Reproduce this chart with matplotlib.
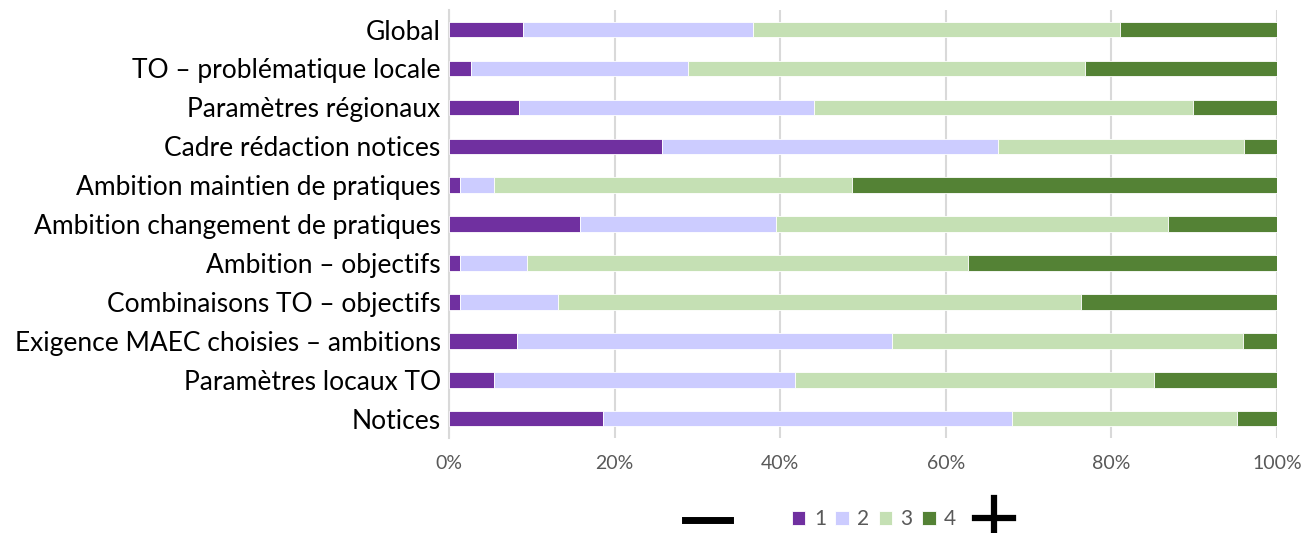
import numpy as np
import matplotlib.pyplot as plt
from matplotlib.lines import Line2D

plt.rcParams['font.family'] = ['Lato', 'DejaVu Sans']

categories = [
    "Global",
    "TO – problématique locale",
    "Paramètres régionaux",
    "Cadre rédaction notices",
    "Ambition maintien de pratiques",
    "Ambition changement de pratiques",
    "Ambition – objectifs",
    "Combinaisons TO – objectifs",
    "Exigence MAEC choisies – ambitions",
    "Paramètres locaux TO",
    "Notices",
]

# shares (%) of answers per score
score_1 = [8.9, 2.7, 8.5, 25.7, 1.3, 15.8, 1.3, 1.3, 8.2, 5.4, 18.6]
score_2 = [27.8, 26.2, 35.6, 40.6, 4.1, 23.7, 8.1, 11.9, 45.3, 36.4, 49.4]
score_3 = [44.3, 47.9, 45.8, 29.7, 43.3, 47.3, 53.3, 63.1, 42.4, 43.3, 27.2]
score_4 = [19.0, 23.2, 10.1, 4.0, 51.3, 13.2, 37.3, 23.7, 4.1, 14.9, 4.8]

series = [score_1, score_2, score_3, score_4]
labels = ["1", "2", "3", "4"]
colors = ["#7030A0", "#CCCCFF", "#C5E0B4", "#548235"]

fig = plt.figure(figsize=(13.06, 5.33), dpi=100)
ax = fig.add_axes([0.3438, 0.178, 0.634, 0.803])

y = np.arange(len(categories))
left = np.zeros(len(categories))
for vals, lab, col in zip(series, labels, colors):
    vals = np.array(vals)
    ax.barh(y, vals, left=left, height=0.4, color=col, label=lab,
            edgecolor="white", linewidth=0.6, zorder=3)
    left += vals

ax.set_ylim(len(categories) - 0.5, -0.5)
ax.set_xlim(0, 100)
ax.set_xticks(np.arange(0, 101, 20))
ax.set_xticklabels([f"{v}%" for v in range(0, 101, 20)], fontsize=14, color="#595959")
ax.set_yticks(y)
ax.set_yticklabels(categories, fontsize=19, color="black")
ax.tick_params(axis="both", length=0)
ax.tick_params(axis="x", pad=12)
ax.tick_params(axis="y", pad=6)
ax.grid(axis="x", color="#D9D9D9", linewidth=1.5, zorder=0)
for side in ["top", "right", "bottom"]:
    ax.spines[side].set_visible(False)
ax.spines["left"].set_color("#D9D9D9")
ax.spines["left"].set_linewidth(1.5)

fig.legend(loc="center", bbox_to_anchor=(874 / 1306, 0.026), ncol=4, frameon=False,
           fontsize=15, handlelength=0.65, handleheight=0.65, handletextpad=0.4,
           columnspacing=0.45, labelcolor="#595959", borderpad=0.2)

# minus / plus markers around the legend
fig.add_artist(Line2D([685 / 1306, 730 / 1306], [0.025, 0.025],
                      transform=fig.transFigure, color="black", linewidth=5))
fig.add_artist(Line2D([975 / 1306, 1013 / 1306], [0.029, 0.029],
                      transform=fig.transFigure, color="black", linewidth=4.5))
fig.add_artist(Line2D([994 / 1306, 994 / 1306], [-0.01, 0.065],
                      transform=fig.transFigure, color="black", linewidth=4.5))

fig.savefig("out.png", dpi=100)
